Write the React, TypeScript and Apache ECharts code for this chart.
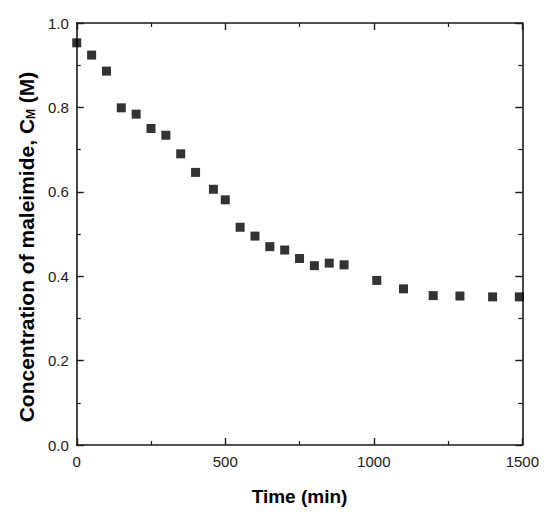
import React, { useEffect, useRef } from "react";
import * as echarts from "echarts";

const timeMin = [0, 50, 100, 150, 200, 250, 300, 350, 400, 460, 500, 550, 600, 650, 700, 750, 800, 850, 900, 1010, 1100, 1200, 1290, 1400, 1490];
const concM = [0.953, 0.924, 0.886, 0.799, 0.784, 0.750, 0.734, 0.690, 0.646, 0.606, 0.581, 0.516, 0.495, 0.470, 0.462, 0.442, 0.425, 0.431, 0.427, 0.390, 0.370, 0.354, 0.353, 0.351, 0.351];
const xTicks = [0, 500, 1000, 1500];
const yTicks = [0.0, 0.2, 0.4, 0.6, 0.8, 1.0];

export default function App() {
  const ref = useRef<HTMLDivElement>(null);
  useEffect(() => {
    if (!ref.current) return;
    const chart = echarts.init(ref.current, null, { renderer: "svg" });
    const axisColor = "#1a1a1a";
    const font = "Liberation Sans, Arial, sans-serif";
    const baseAxis = {
      axisLine: { show: true, onZero: false, lineStyle: { color: axisColor, width: 1.6 } },
      axisTick: { show: true, inside: true, length: 7, lineStyle: { color: axisColor, width: 1.4 } },
      minorTick: { show: true, splitNumber: 2, length: 4, lineStyle: { color: axisColor, width: 1.2 } },
      splitLine: { show: false },
    };
    chart.setOption({
      animation: false,
      backgroundColor: "#fff",
      grid: { left: 64, right: 19, top: 15, bottom: 66, containLabel: false },
      xAxis: [
        {
          ...baseAxis,
          type: "value",
          min: xTicks[0],
          max: xTicks[xTicks.length - 1],
          interval: 500,
          position: "bottom",
          axisLabel: { color: "#1a1a1a", fontSize: 15, fontFamily: font, margin: 9, formatter: (v: number) => String(v) },
          name: "Time (min)",
          nameLocation: "middle",
          nameGap: 42,
          nameTextStyle: { color: "#000", fontSize: 19, fontWeight: "bold", fontFamily: font },
        },
        {
          ...baseAxis,
          type: "value",
          min: xTicks[0],
          max: xTicks[xTicks.length - 1],
          interval: 500,
          position: "top",
          axisLabel: { show: false },
        },
      ],
      yAxis: [
        {
          ...baseAxis,
          type: "value",
          min: yTicks[0],
          max: yTicks[yTicks.length - 1],
          interval: 0.2,
          position: "left",
          axisLabel: {
            color: "#1a1a1a",
            fontSize: 15,
            fontFamily: font,
            margin: 8,
            formatter: (v: number) => v.toFixed(1),
          },
          name: "Concentration of maleimide, C{sub|M} (M)",
          nameLocation: "middle",
          nameRotate: 90,
          nameGap: 38,
          nameTextStyle: {
            color: "#000",
            fontSize: 21,
            fontWeight: "bold",
            fontFamily: font,
            padding: [0, 26, 0, 0],
            rich: {
              sub: { fontSize: 12, fontWeight: "bold", fontFamily: font, color: "#000", verticalAlign: "bottom", padding: [9, 0, 0, 0] },
            },
          },
        },
        {
          ...baseAxis,
          type: "value",
          min: yTicks[0],
          max: yTicks[yTicks.length - 1],
          interval: 0.2,
          position: "right",
          axisLabel: { show: false },
        },
      ],
      series: [
        {
          type: "scatter",
          xAxisIndex: 0,
          yAxisIndex: 0,
          symbol: "rect",
          symbolSize: 9,
          clip: false,
          itemStyle: { color: "#000" },
          data: timeMin.map((t, i) => [t, concM[i]]),
        },
      ],
    });
    return () => chart.dispose();
  }, []);
  return <div ref={ref} style={{ width: 534, height: 503 }} />;
}
